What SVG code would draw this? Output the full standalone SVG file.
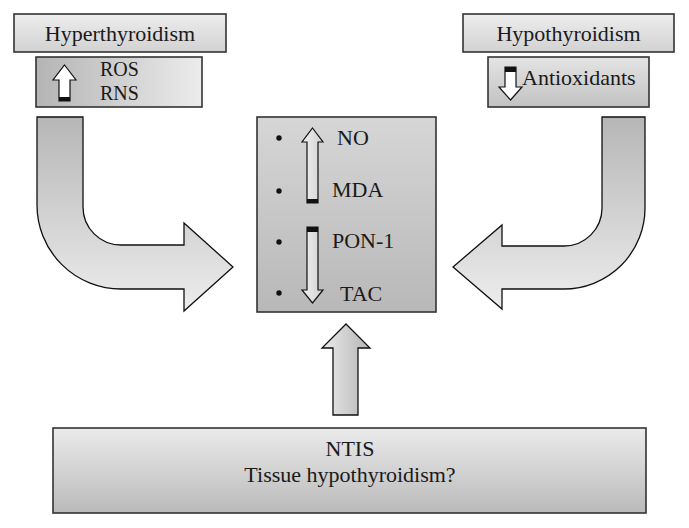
<svg xmlns="http://www.w3.org/2000/svg" width="689" height="528" viewBox="0 0 689 528">
<defs>
<linearGradient id="gTitle" x1="0" y1="0" x2="0" y2="1"><stop offset="0" stop-color="#ededed"/><stop offset="1" stop-color="#d2d2d2"/></linearGradient>
<linearGradient id="gH" x1="0" y1="0" x2="1" y2="0"><stop offset="0" stop-color="#b4b4b4"/><stop offset="1" stop-color="#ececec"/></linearGradient>
<linearGradient id="gV" x1="0" y1="0" x2="0" y2="1"><stop offset="0" stop-color="#e4e4e4"/><stop offset="1" stop-color="#c2c2c2"/></linearGradient>
<linearGradient id="gCenter" x1="0" y1="0" x2="0" y2="1"><stop offset="0" stop-color="#d6d6d6"/><stop offset="1" stop-color="#b8b8b8"/></linearGradient>
<linearGradient id="gBig" x1="0" y1="0" x2="0" y2="1"><stop offset="0" stop-color="#b6b6b6"/><stop offset="1" stop-color="#ededed"/></linearGradient>
<linearGradient id="gUp" x1="0" y1="0" x2="1" y2="0"><stop offset="0" stop-color="#ececec"/><stop offset="1" stop-color="#b4b4b4"/></linearGradient>
<linearGradient id="gSmall" x1="0" y1="0" x2="1" y2="0"><stop offset="0" stop-color="#f2f2f2"/><stop offset="1" stop-color="#cfcfcf"/></linearGradient>
<linearGradient id="gBottom" x1="0" y1="0" x2="0" y2="1"><stop offset="0" stop-color="#ebebeb"/><stop offset="1" stop-color="#bababa"/></linearGradient>
</defs>
<style>
.box{stroke:#333;stroke-width:1.6}
.t{font-family:"Liberation Serif","Times New Roman",serif;font-size:22px;fill:#1a1a1a}
.s{font-size:20px}
.c{text-anchor:middle}
.arr{stroke:#111;stroke-width:1.2;stroke-linejoin:miter}
.big{fill:url(#gBig);stroke:#111;stroke-width:1.3}
.bar{fill:#111}
.dot{fill:#111}
</style>
<rect width="689" height="528" fill="#fff"/>

<g id="hyperthyroidism">
<rect class="box" x="14" y="14" width="212" height="38" fill="url(#gTitle)"/>
<text class="t c" x="120" y="41">Hyperthyroidism</text>
</g>

<g id="ros-rns">
<rect class="box" x="36" y="57" width="166" height="50" fill="url(#gH)"/>
<path class="arr" fill="#fff" d="M64.5 65 L76 80 L70 80 L70 101 L59 101 L59 80 L53 80 Z"/>
<rect class="bar" x="59" y="97" width="11" height="4"/>
<text class="t s" x="100" y="76">ROS</text>
<text class="t s" x="100" y="99.5">RNS</text>
</g>

<g id="hypothyroidism">
<rect class="box" x="463" y="14" width="211" height="38" fill="url(#gTitle)"/>
<text class="t c" x="568.5" y="41">Hypothyroidism</text>
</g>

<g id="antioxidants">
<rect class="box" x="488" y="57" width="161" height="50" fill="url(#gV)"/>
<path class="arr" fill="#fff" d="M505 67 L516 67 L516 87 L522 87 L510.5 100 L499 87 L505 87 Z"/>
<rect class="bar" x="505" y="67" width="11" height="5"/>
<text class="t" x="522" y="85">Antioxidants</text>
</g>

<g id="markers">
<rect class="box" x="257" y="117" width="179" height="195" fill="url(#gCenter)"/>
<circle class="dot" cx="279" cy="138" r="2.7"/>
<circle class="dot" cx="279" cy="191" r="2.7"/>
<circle class="dot" cx="279" cy="242" r="2.7"/>
<circle class="dot" cx="279" cy="293" r="2.7"/>
<path class="arr" fill="url(#gSmall)" d="M312.5 128 L323 142 L318 142 L318 203 L307 203 L307 142 L302 142 Z"/>
<rect class="bar" x="307" y="199" width="11" height="4"/>
<path class="arr" fill="url(#gSmall)" d="M307 227 L318 227 L318 290 L323 290 L312.5 303 L302 290 L307 290 Z"/>
<rect class="bar" x="307" y="227" width="11" height="5"/>
<text class="t" x="337" y="145">NO</text>
<text class="t" x="332" y="197">MDA</text>
<text class="t" x="332" y="248">PON-1</text>
<text class="t" x="340" y="301">TAC</text>
</g>

<g id="ntis">
<rect class="box" x="53" y="428" width="593" height="85" fill="url(#gBottom)"/>
<text class="t c" x="350" y="456">NTIS</text>
<text class="t c" x="350" y="482">Tissue hypothyroidism?</text>
</g>

<g id="connectors">
<path class="big" d="M37 117 L83 117 L83 207 A38 38 0 0 0 121 245 L184 245 L184 223 L233 267 L184 311 L184 289 L121 289 A84 84 0 0 1 37 205 Z"/>
<path class="big" d="M645 117 L602 117 L602 208 A38 38 0 0 1 564 246 L502 246 L502 225 L453 267 L502 309 L502 289 L564 289 A81 81 0 0 0 645 208 Z"/>
<path class="big" style="fill:url(#gUp)" d="M346 324 L370 348 L358 348 L358 415 L333 415 L333 348 L322 348 Z"/>
</g>
</svg>
